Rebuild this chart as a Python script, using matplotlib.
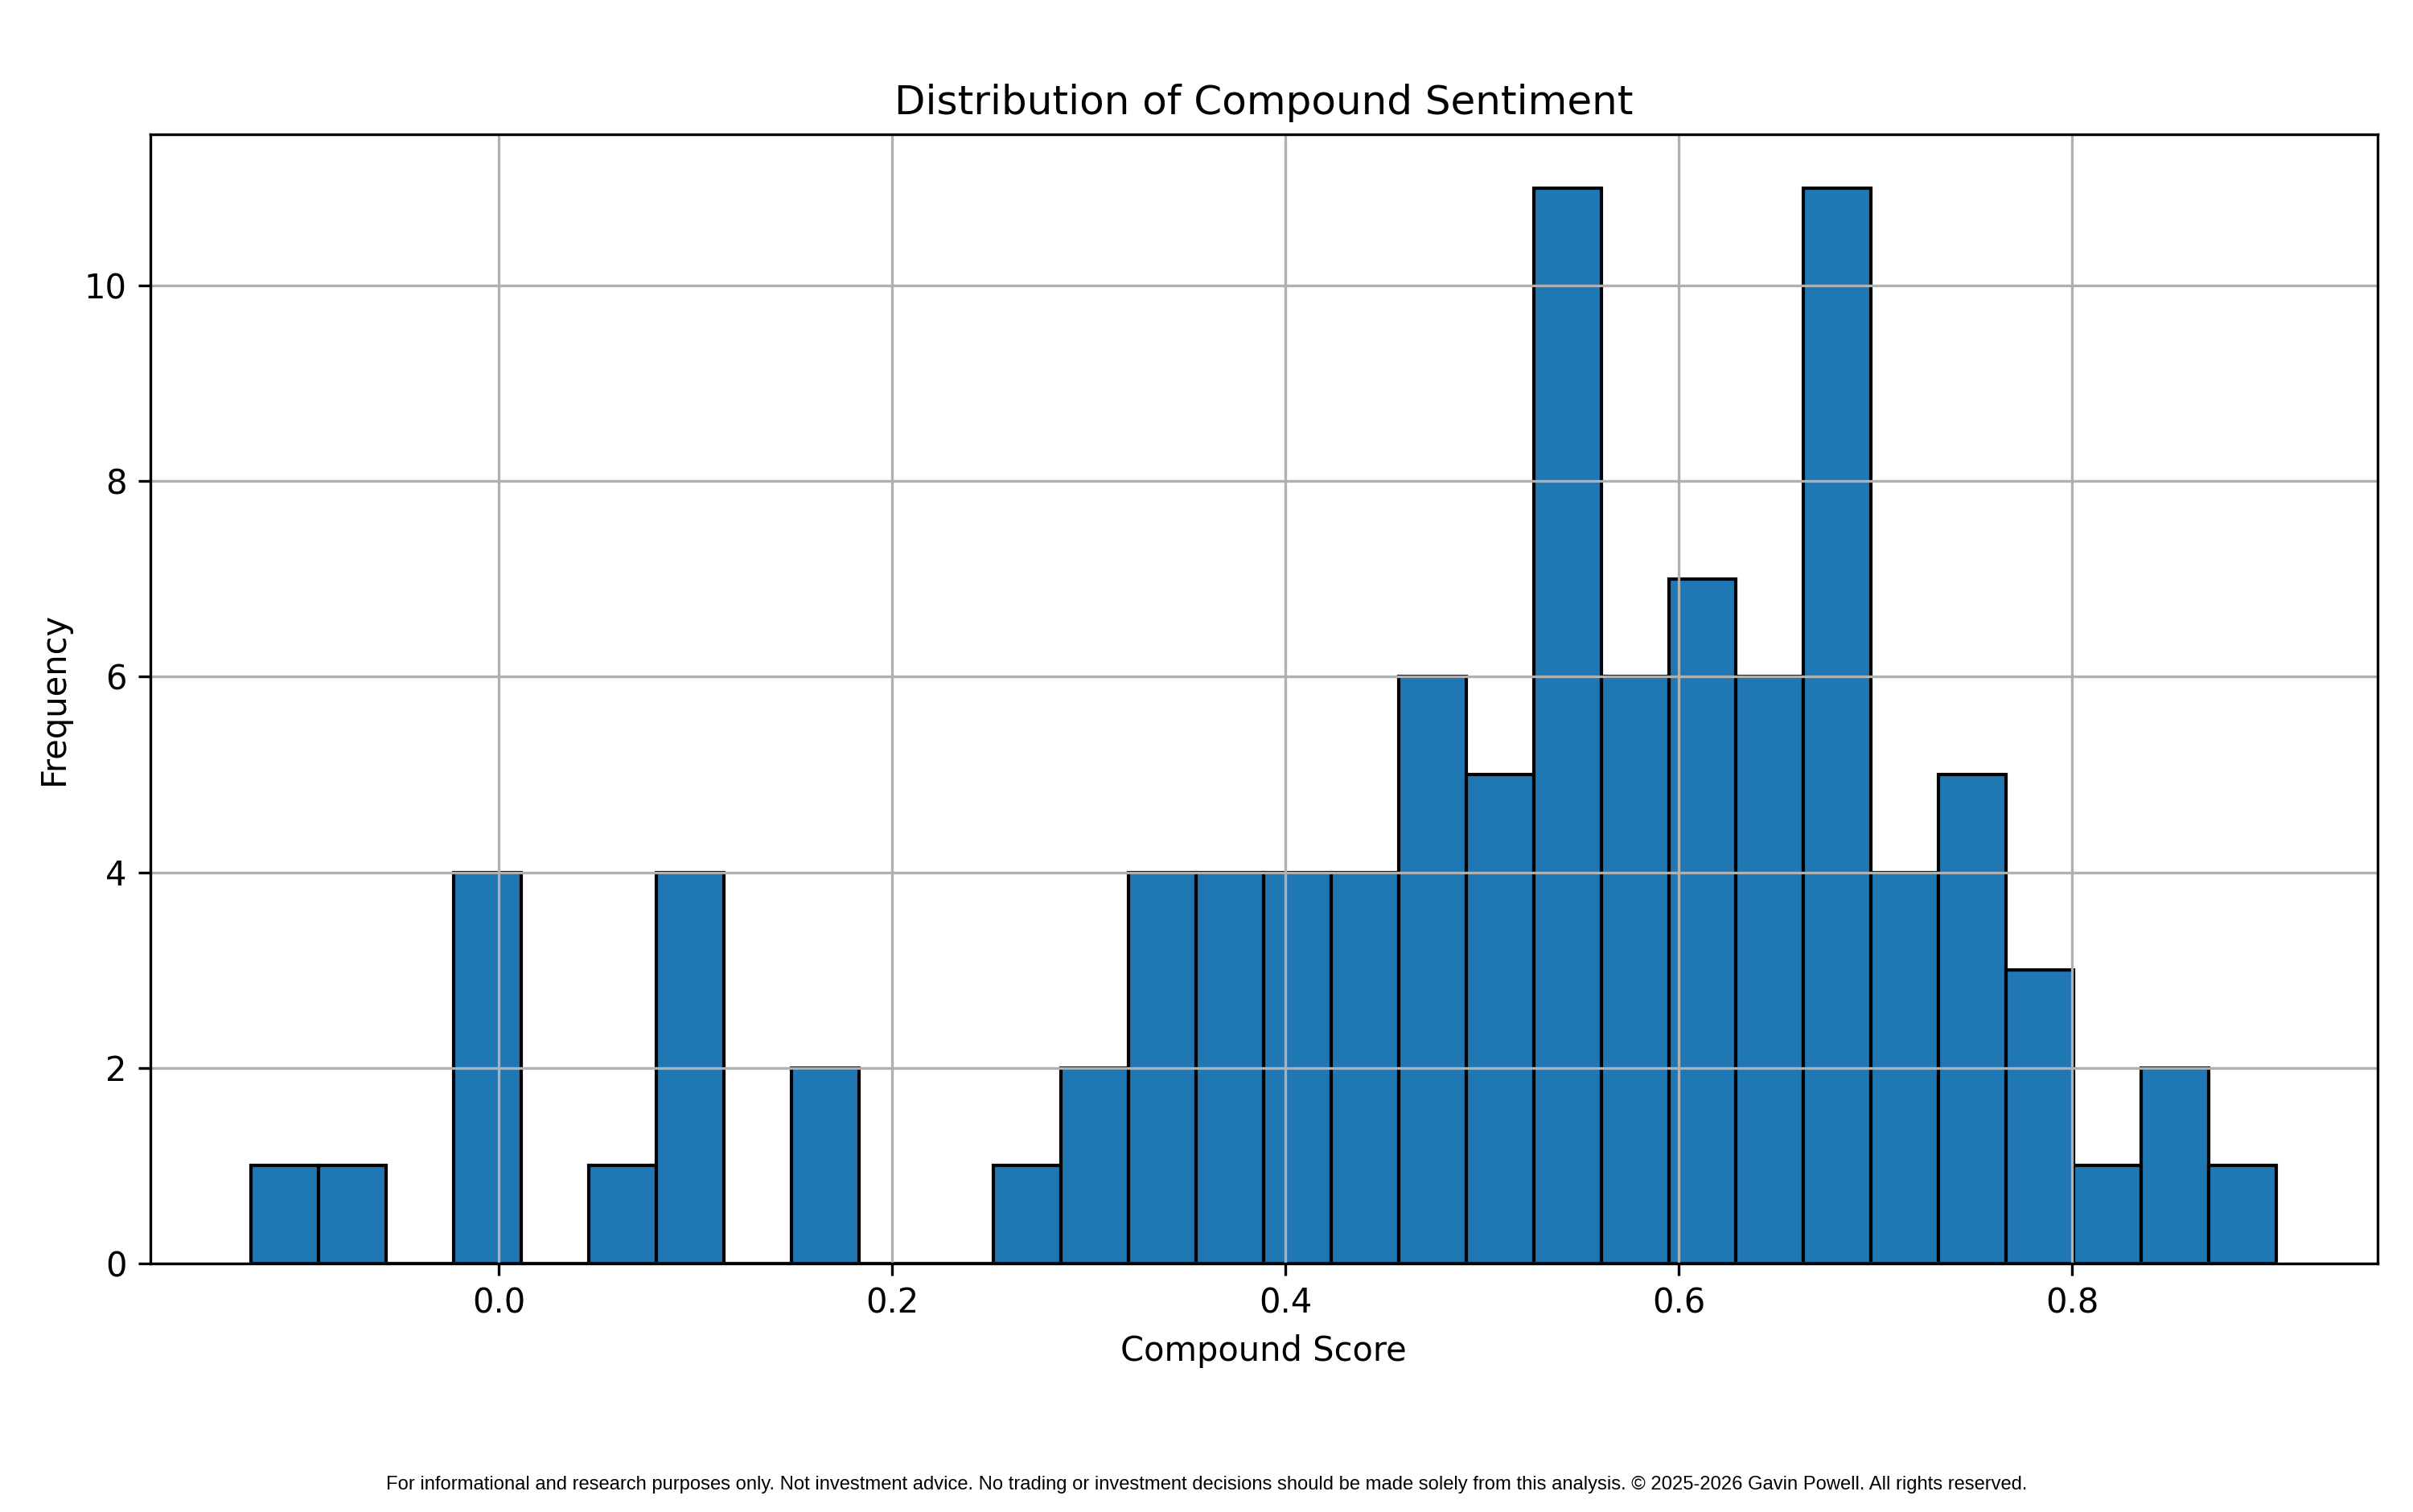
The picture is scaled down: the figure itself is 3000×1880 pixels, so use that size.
import numpy as np
import matplotlib.pyplot as plt

# histogram: 30 equal bins
bin_lo = -0.1257
bin_hi = 0.9036
counts = [1, 1, 0, 4, 0, 1, 4, 0, 2, 0,
          0, 1, 2, 4, 4, 4, 4, 6, 5, 11,
          6, 7, 6, 11, 4, 5, 3, 1, 2, 1]

title = "Distribution of Compound Sentiment"
xlabel = "Compound Score"
ylabel = "Frequency"
footer = ("For informational and research purposes only. Not investment advice. "
          "No trading or investment decisions should be made solely from this analysis. "
          "\u00a9 2025-2026 Gavin Powell. All rights reserved.")

edges = np.linspace(bin_lo, bin_hi, len(counts) + 1)
centers = (edges[:-1] + edges[1:]) / 2

fig, ax = plt.subplots(figsize=(10, 6.2667), dpi=300)
fig.subplots_adjust(left=0.0622, right=0.9852, top=0.9113, bottom=0.1645)

ax.hist(centers, bins=edges, weights=counts, color='#1f77b4', edgecolor='black', linewidth=1.0)
ax.set_title(title)
ax.set_xlabel(xlabel)
ax.set_ylabel(ylabel)
ax.grid(True)

fig.text(0.5, 0.012, footer, ha='center', va='bottom', fontsize=5.7, family='Liberation Sans')

fig.savefig("out.png", dpi=300)
